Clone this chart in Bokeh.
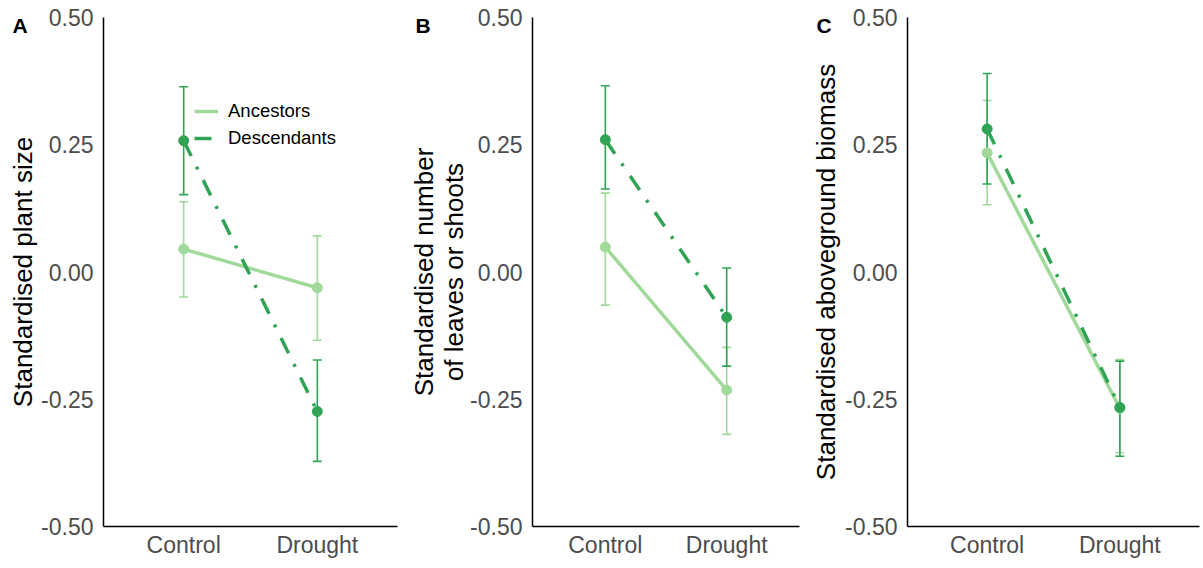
from bokeh.plotting import figure
from bokeh.layouts import row
from bokeh.models import (Range1d, FixedTicker, ColumnDataSource, Whisker, TeeHead,
                          Legend, LegendItem)
from bokeh.embed import file_html
from bokeh.resources import INLINE

categories = ["Control", "Drought"]
panel_letters = ["A", "B", "C"]
y_labels = ["Standardised plant size",
            "Standardised number\nof leaves or shoots",
            "Standardised aboveground biomass"]
series_names = ["Ancestors", "Descendants"]
y_ticks = [-0.5, -0.25, 0.0, 0.25, 0.5]
y_tick_labels = ["-0.50", "-0.25", "0.00", "0.25", "0.50"]

# Panel A: plant size
anc_mean_A = [0.045, -0.031]
anc_lo_A = [-0.049, -0.134]
anc_hi_A = [0.138, 0.071]
desc_mean_A = [0.258, -0.274]
desc_lo_A = [0.152, -0.372]
desc_hi_A = [0.364, -0.173]

# Panel B: number of leaves or shoots
anc_mean_B = [0.049, -0.232]
anc_lo_B = [-0.065, -0.319]
anc_hi_B = [0.155, -0.148]
desc_mean_B = [0.260, -0.089]
desc_lo_B = [0.163, -0.185]
desc_hi_B = [0.366, 0.008]

# Panel C: aboveground biomass
anc_mean_C = [0.234, -0.268]
anc_lo_C = [0.132, -0.355]
anc_hi_C = [0.337, -0.172]
desc_mean_C = [0.281, -0.266]
desc_lo_C = [0.173, -0.362]
desc_hi_C = [0.390, -0.175]

ANC_COLOR = "#a1d99b"
DESC_COLOR = "#31a354"
FONT = "Liberation Sans"

panels = [
    (anc_mean_A, anc_lo_A, anc_hi_A, desc_mean_A, desc_lo_A, desc_hi_A),
    (anc_mean_B, anc_lo_B, anc_hi_B, desc_mean_B, desc_lo_B, desc_hi_B),
    (anc_mean_C, anc_lo_C, anc_hi_C, desc_mean_C, desc_lo_C, desc_hi_C),
]

HEIGHT = 566
# (width, min_border_left, min_border_right, letter offset, y-label standoff)
geo = [
    (399, 103, 2, -91, 0),
    (405, 133, 5, -117, -2),
    (397, 103, 2, -91, 1),
]

xs = [i + 1 for i in range(len(categories))]

figs = []
for k, (data, (w, bl, br, loff, lstand)) in enumerate(zip(panels, geo)):
    am, alo, ahi, dm, dlo, dhi = data
    p = figure(width=w, height=HEIGHT, output_backend="svg", toolbar_location=None,
               x_range=Range1d(0.4, 2.6), y_range=Range1d(-0.5, 0.5),
               min_border_left=bl, min_border_right=br, min_border_top=17,
               min_border_bottom=40, title=panel_letters[k])
    p.title.align = "left"
    p.title.vertical_align = "bottom"
    p.title.offset = loff
    p.title.standoff = -38
    p.title.text_font = FONT
    p.title.text_font_size = "21px"
    p.title.text_font_style = "bold"
    p.title.text_color = "black"

    p.outline_line_color = None
    p.grid.visible = False
    p.background_fill_color = "white"
    p.border_fill_color = "white"

    for ax in (p.xaxis[0], p.yaxis[0]):
        ax.axis_line_color = "black"
        ax.axis_line_width = 1.5
        ax.major_tick_in = 0
        ax.major_tick_out = 0
        ax.minor_tick_in = 0
        ax.minor_tick_out = 0
        ax.major_label_text_font = FONT
        ax.major_label_text_font_size = "23px"
        ax.major_label_text_color = "#4d4d4d"
        ax.axis_label_text_font = FONT
        ax.axis_label_text_font_style = "normal"
        ax.axis_label_text_color = "black"
        ax.axis_label_text_font_size = "26px"
        ax.axis_label_text_line_height = 1.0

    p.xaxis.ticker = FixedTicker(ticks=xs)
    p.xaxis.major_label_overrides = {x: c for x, c in zip(xs, categories)}
    p.xaxis.major_label_standoff = 5
    p.yaxis.ticker = FixedTicker(ticks=y_ticks)
    p.yaxis.major_label_overrides = {t: l for t, l in zip(y_ticks, y_tick_labels)}
    p.yaxis.major_label_standoff = 10
    p.yaxis.axis_label = y_labels[k]
    p.yaxis.axis_label_standoff = lstand

    src_a = ColumnDataSource(dict(x=xs, y=am, lo=alo, hi=ahi))
    src_d = ColumnDataSource(dict(x=xs, y=dm, lo=dlo, hi=dhi))

    for src, col in ((src_a, ANC_COLOR), (src_d, DESC_COLOR)):
        wh = Whisker(base="x", lower="lo", upper="hi", source=src,
                     line_color=col, line_width=1.6,
                     upper_head=TeeHead(size=9, line_color=col, line_width=1.6),
                     lower_head=TeeHead(size=9, line_color=col, line_width=1.6))
        p.add_layout(wh)

    la = p.line("x", "y", source=src_a, line_color=ANC_COLOR, line_width=3.5)
    ld = p.line("x", "y", source=src_d, line_color=DESC_COLOR, line_width=3.5,
                line_dash="17 12 3 12")
    p.scatter("x", "y", source=src_a, size=10, color=ANC_COLOR)
    p.scatter("x", "y", source=src_d, size=10, color=DESC_COLOR)

    if k == 0:
        legend = Legend(items=[LegendItem(label=series_names[0], renderers=[la]),
                               LegendItem(label=series_names[1], renderers=[ld])],
                        location=(91, 376), padding=0, spacing=3, margin=0,
                        glyph_width=24, glyph_height=24, label_standoff=10,
                        label_text_font=FONT, label_text_font_size="18.5px",
                        label_text_color="black", border_line_color=None,
                        background_fill_alpha=0)
        p.add_layout(legend, "center")

    figs.append(p)

layout = row(*figs)
open("out.html", "w").write(file_html(layout, INLINE))
